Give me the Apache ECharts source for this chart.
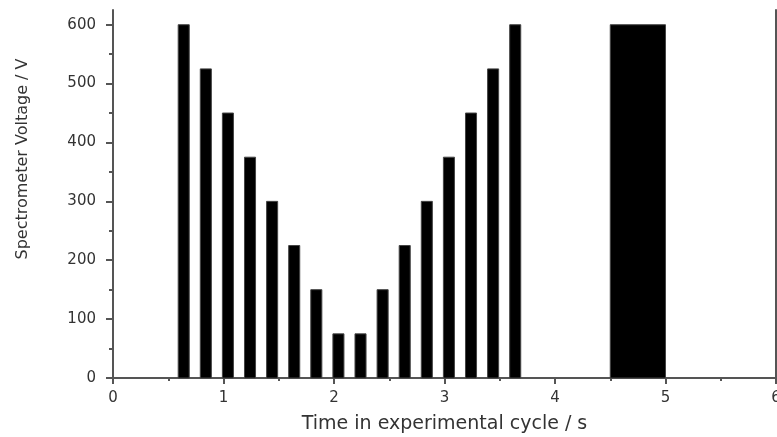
<!DOCTYPE html>
<html>
<head>
<meta charset="utf-8">
<script src="https://cdn.jsdelivr.net/npm/echarts@6/dist/echarts.min.js"></script>
<style>
  html, body { margin: 0; padding: 0; background: #fff; }
  #main { width: 777px; height: 437px; }
</style>
</head>
<body>
<div id="main"></div>
<script>
// pulse train: centre time (s) and voltage (V) of each step
var pulseTimes = [0.64, 0.84, 1.04, 1.24, 1.44, 1.64, 1.84, 2.04, 2.24, 2.44, 2.64, 2.84, 3.04, 3.24, 3.44, 3.64];
var pulseVoltages = [600, 525, 450, 375, 300, 225, 150, 75, 75, 150, 225, 300, 375, 450, 525, 600];
var pulseLength = 0.1;
// long hold at the end of the cycle: [start, end, voltage]
var holdBlock = [4.5, 5.0, 600];

var yMajorTicks = [0, 100, 200, 300, 400, 500, 600];
var yMinorTicks = [50, 150, 250, 350, 450, 550];

var rects = pulseTimes.map(function (t, i) {
    return [t - pulseLength / 2, t + pulseLength / 2, pulseVoltages[i]];
});
rects.push(holdBlock);

var axisColor = '#555';
var textColor = '#333';
var font = 'DejaVu Sans';

var myChart = echarts.init(document.getElementById('main'));

var option = {
    animation: false,
    backgroundColor: '#fff',
    grid: {
        left: 113, right: 1, top: 10, bottom: 59,
        containLabel: false,
        outerBoundsMode: 'none'
    },
    xAxis: {
        type: 'value',
        min: 0, max: 6, interval: 1,
        name: 'Time in experimental cycle / s',
        nameLocation: 'middle',
        nameGap: 37,
        nameTextStyle: { color: textColor, fontFamily: font, fontSize: 19 },
        axisLine: { lineStyle: { color: axisColor, width: 2 } },
        axisTick: { show: true, inside: false, length: 6, lineStyle: { color: axisColor, width: 2 } },
        minorTick: { show: true, splitNumber: 2, length: 3, lineStyle: { color: axisColor, width: 2 } },
        axisLabel: { color: textColor, fontFamily: font, fontSize: 15, margin: 13 },
        splitLine: { show: false }
    },
    yAxis: [{
        type: 'value',
        min: 0, max: 625,
        interval: 100,
        name: 'Spectrometer Voltage / V',
        nameLocation: 'middle',
        nameGap: 82,
        nameRotate: 90,
        nameTextStyle: { color: textColor, fontFamily: font, fontSize: 16, padding: [0, 0, 0, 70] },
        axisLine: { show: true, lineStyle: { color: axisColor, width: 2 } },
        axisTick: { show: true, length: 7, customValues: yMajorTicks, lineStyle: { color: axisColor, width: 2 } },
        axisLabel: { color: textColor, fontFamily: font, fontSize: 15, margin: 17, customValues: yMajorTicks },
        splitLine: { show: false }
    }, {
        type: 'value',
        position: 'left',
        min: 0, max: 625,
        axisLine: { show: false },
        axisTick: { show: true, length: 4, customValues: yMinorTicks, lineStyle: { color: axisColor, width: 2 } },
        axisLabel: { show: false },
        splitLine: { show: false }
    }, {
        type: 'value',
        position: 'right',
        min: 0, max: 625,
        axisLine: { show: true, lineStyle: { color: axisColor, width: 2 } },
        axisTick: { show: false },
        axisLabel: { show: false },
        splitLine: { show: false }
    }],
    series: [{
        type: 'custom',
        xAxisIndex: 0,
        yAxisIndex: 0,
        data: rects,
        encode: { x: [0, 1], y: 2 },
        renderItem: function (params, api) {
            var topLeft = api.coord([api.value(0), api.value(2)]);
            var bottomRight = api.coord([api.value(1), 0]);
            return {
                type: 'rect',
                shape: {
                    x: topLeft[0],
                    y: topLeft[1],
                    width: bottomRight[0] - topLeft[0],
                    height: bottomRight[1] - topLeft[1]
                },
                style: { fill: '#000', stroke: '#444', lineWidth: 1 }
            };
        }
    }]
};

myChart.setOption(option);
</script>
</body>
</html>
